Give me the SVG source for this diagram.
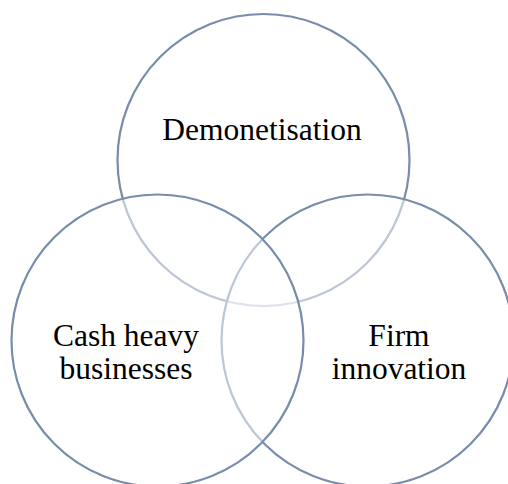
<svg xmlns="http://www.w3.org/2000/svg" width="508" height="484" viewBox="0 0 508 484">
<style>
.c{fill:#ffffff;fill-opacity:0.5;stroke:#788cab;stroke-width:2.2}
.t{font-family:"Liberation Serif","Times New Roman",serif;font-size:31.5px;fill:#000;text-anchor:middle}
</style>
<rect width="508" height="484" fill="#ffffff"/>
<g id="demonetisation">
<circle class="c" cx="263.5" cy="160" r="146"/>
<text class="t" x="262" y="140">Demonetisation</text>
</g>
<g id="firm-innovation">
<circle class="c" cx="367.5" cy="340.5" r="146"/>
<text class="t" x="399" y="346">Firm</text>
<text class="t" x="399" y="379">innovation</text>
</g>
<g id="cash-heavy">
<circle class="c" cx="157.5" cy="340.5" r="146"/>
<text class="t" x="126" y="346">Cash heavy</text>
<text class="t" x="126" y="379">businesses</text>
</g>
<g id="connectors"/>
</svg>
